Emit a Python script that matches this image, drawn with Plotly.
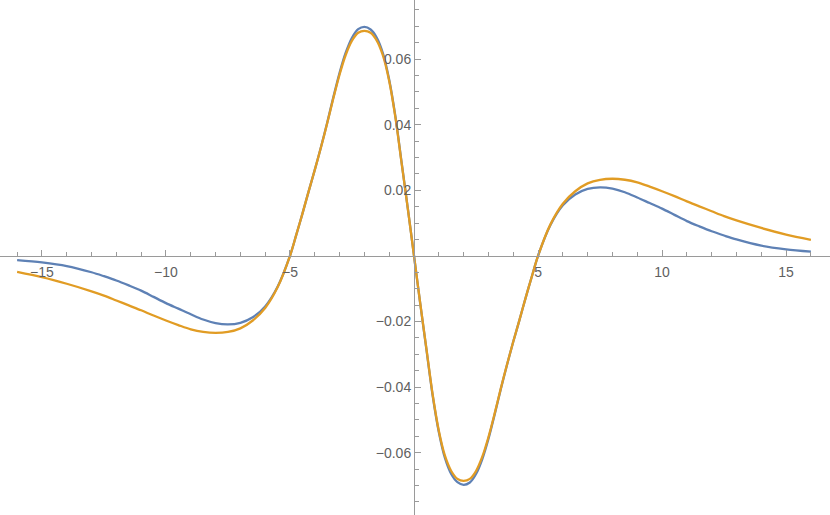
import plotly.graph_objects as go

# sampled x positions
x_vals = [-16, -15, -14, -13, -12.5, -12, -11.5, -11, -10.5, -10, -9.5, -9, -8.5, -8, -7.5, -7,
          -6.5, -6, -5.5, -5, -4.75, -4.5, -4.25, -4, -3.75, -3.5, -3.25, -3, -2.75, -2.5,
          -2.25, -2, -1.75, -1.5, -1.25, -1, -0.75, -0.5, -0.25, 0, 0.25, 0.5, 0.75, 1, 1.25,
          1.5, 1.75, 2, 2.25, 2.5, 2.75, 3, 3.25, 3.5, 3.75, 4, 4.25, 4.5, 4.75, 5, 5.5, 6,
          6.5, 7, 7.5, 8, 8.5, 9, 9.5, 10, 10.5, 11, 11.5, 12, 12.5, 13, 14, 15, 16]

blue_vals = [-0.0013, -0.0020, -0.0031, -0.0050, -0.0062, -0.0075, -0.0090, -0.0106, -0.0125,
             -0.0144, -0.0161, -0.0178, -0.0194, -0.0205, -0.0209, -0.0204, -0.0187, -0.0154,
             -0.0094, 0.0, 0.0063, 0.0128, 0.0196, 0.0262, 0.0332, 0.0406, 0.0484, 0.0558,
             0.0620, 0.0665, 0.0691, 0.0698, 0.0690, 0.0665, 0.0617, 0.0537, 0.0425, 0.0285,
             0.0145, 0.0, -0.0145, -0.0285, -0.0425, -0.0537, -0.0617, -0.0665, -0.0690,
             -0.0698, -0.0691, -0.0665, -0.0620, -0.0558, -0.0484, -0.0406, -0.0332, -0.0262,
             -0.0196, -0.0128, -0.0063, 0.0, 0.0094, 0.0154, 0.0187, 0.0204, 0.0209, 0.0205,
             0.0194, 0.0178, 0.0161, 0.0144, 0.0125, 0.0106, 0.0090, 0.0075, 0.0062, 0.0050,
             0.0031, 0.0020, 0.0013]

orange_vals = [-0.0049, -0.0065, -0.0085, -0.0108, -0.0121, -0.0136, -0.0151, -0.0166, -0.0182,
               -0.0197, -0.0211, -0.0224, -0.0232, -0.0235, -0.0232, -0.0221, -0.0197, -0.0159,
               -0.0096, 0.0, 0.0063, 0.0128, 0.0196, 0.0262, 0.0331, 0.0404, 0.0481, 0.0553,
               0.0613, 0.0656, 0.0680, 0.0686, 0.0680, 0.0656, 0.0610, 0.0533, 0.0422, 0.0283,
               0.0144, 0.0, -0.0144, -0.0283, -0.0422, -0.0533, -0.0610, -0.0656, -0.0680,
               -0.0686, -0.0680, -0.0656, -0.0613, -0.0553, -0.0481, -0.0404, -0.0331, -0.0262,
               -0.0196, -0.0128, -0.0063, 0.0, 0.0096, 0.0159, 0.0197, 0.0221, 0.0232, 0.0235,
               0.0232, 0.0224, 0.0211, 0.0197, 0.0182, 0.0166, 0.0151, 0.0136, 0.0121, 0.0108,
               0.0085, 0.0065, 0.0049]

# tick positions and labels
x_ticks = [-15, -10, -5, 5, 10, 15]
x_labels = ["\u221215", "\u221210", "\u22125", "5", "10", "15"]
x_minor = [-16, -14, -13, -12, -11, -9, -8, -7, -6, -4, -3, -2, -1,
           1, 2, 3, 4, 6, 7, 8, 9, 11, 12, 13, 14, 16]
y_ticks = [-0.06, -0.04, -0.02, 0.02, 0.04, 0.06]
y_labels = ["\u22120.06", "\u22120.04", "\u22120.02", "0.02", "0.04", "0.06"]
y_minor = [-0.075, -0.07, -0.065, -0.055, -0.05, -0.045, -0.035, -0.03, -0.025, -0.015, -0.01, -0.005,
           0.005, 0.01, 0.015, 0.025, 0.03, 0.035, 0.045, 0.05, 0.055, 0.065, 0.07, 0.075]

axis_col = "#9a9a9a"
label_col = "#5f5f5f"

fig = go.Figure()
fig.add_trace(go.Scatter(x=x_vals, y=blue_vals, mode="lines",
                         line=dict(color="#5E81B5", width=2.3, shape="spline", smoothing=0.9)))
fig.add_trace(go.Scatter(x=x_vals, y=orange_vals, mode="lines",
                         line=dict(color="#E19C24", width=2.3, shape="spline", smoothing=0.9)))

fig.update_layout(
    width=830, height=515,
    margin=dict(l=0, r=0, t=0, b=0),
    plot_bgcolor="white", paper_bgcolor="white",
    showlegend=False,
    font=dict(family="Liberation Sans, Arial, sans-serif", size=14, color=label_col),
    xaxis=dict(range=[-16.69, 16.77], anchor="free", position=259 / 515, automargin=False,
               showgrid=False, zeroline=False, showline=True, linecolor=axis_col, linewidth=1,
               tickmode="array", tickvals=x_ticks, ticktext=x_labels, ticklabelstandoff=3,
               ticks="inside", ticklen=6, tickcolor=axis_col, tickwidth=1,
               minor=dict(tickmode="array", tickvals=x_minor, ticks="inside", ticklen=4,
                          tickcolor=axis_col, tickwidth=1, showgrid=False)),
    yaxis=dict(range=[-0.0790, 0.0780], anchor="free", position=414 / 830, automargin=False,
               showgrid=False, zeroline=False, showline=True, linecolor=axis_col, linewidth=1,
               tickmode="array", tickvals=y_ticks, ticktext=y_labels,
               ticks="inside", ticklen=6, tickcolor=axis_col, tickwidth=1,
               minor=dict(tickmode="array", tickvals=y_minor, ticks="inside", ticklen=4,
                          tickcolor=axis_col, tickwidth=1, showgrid=False)),
)

# page body has a default 8px margin; drop it so the plot sits at the window corner
fig.write_html("out.html", config={"displayModeBar": False},
               post_script="document.body.style.margin='0';")
